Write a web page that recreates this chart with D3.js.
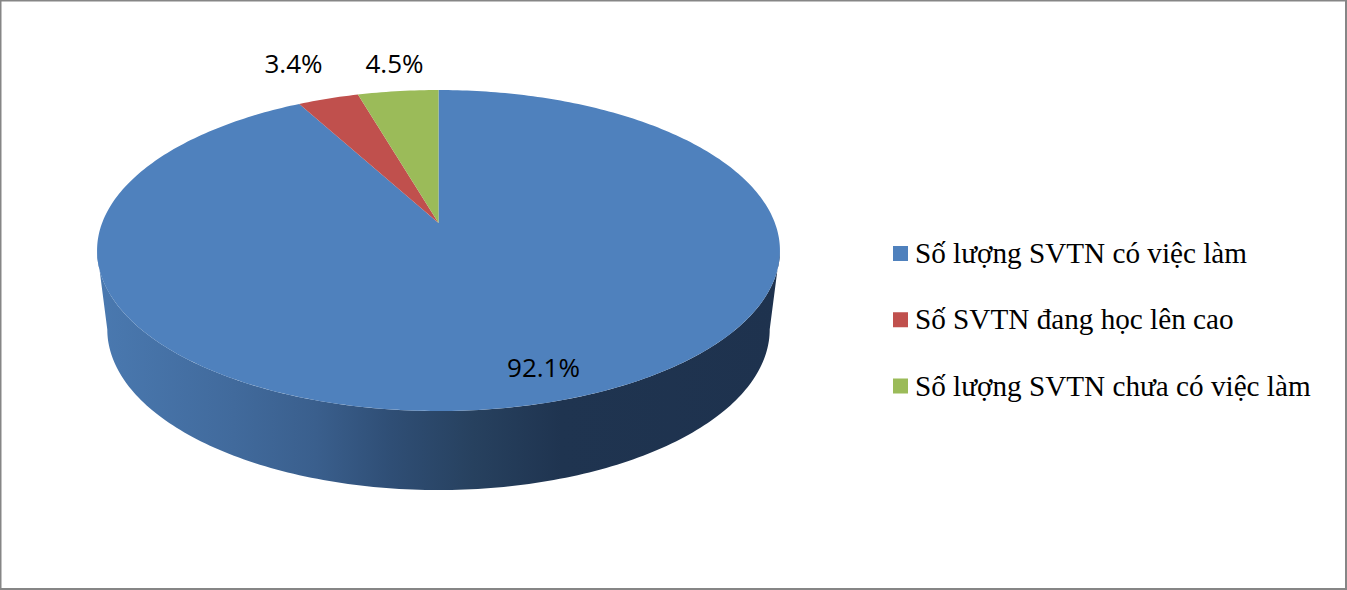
<!DOCTYPE html>
<html>
<head>
<meta charset="utf-8">
<script src="https://cdn.jsdelivr.net/npm/d3@7"></script>
<style>
html, body { margin: 0; padding: 0; background: #fff; overflow: hidden; }
</style>
</head>
<body>
<div id="chart"></div>
<script>
var categories = ['Số lượng SVTN có việc làm', 'Số SVTN đang học lên cao', 'Số lượng SVTN chưa có việc làm'];
var values = [92.1, 3.4, 4.5];
var labels = ['92.1%', '3.4%', '4.5%'];
var fills = ['#4F81BD', '#C0504D', '#9BBB59'];

var width = 1347;
var height = 590;

var svg = d3.select('#chart').append('svg')
  .attr('width', width)
  .attr('height', height)
  .style('display', 'block');

svg.append('rect')
  .attr('x', 0.5).attr('y', 0.5)
  .attr('width', 1345.5).attr('height', 588.5)
  .attr('fill', '#fff')
  .attr('stroke', '#868686')
  .attr('stroke-width', 2);

// the pie is tilted with perspective, so the apex is above the middle of the ellipse
var cx = 438.5;
var apexY = 223;
var persp = -0.1713, vA = 117.6, uD = 336.4;

var project = function(angle) {
  var u = Math.sin(angle), v = -Math.cos(angle);
  var w = 1 + persp * v;
  return [cx + uD * u / w, (vA * v + apexY) / w];
};

// bottom rim is the top rim moved down and a bit narrower
var rimScale = 0.97, rimDrop = 79;
var projectRim = function(angle) {
  var p = project(angle);
  return [cx + (p[0] - cx) * rimScale, p[1] + rimDrop];
};

var line = d3.line();
var sweep = function(a0, a1, fn) {
  var n = Math.max(2, Math.ceil(Math.abs(a1 - a0) * 60));
  return d3.range(n + 1).map(function(i) {
    return fn(a0 + (a1 - a0) * i / n);
  });
};

var defs = svg.append('defs');
var sideGrad = defs.append('linearGradient')
  .attr('id', 'sideGrad')
  .attr('gradientUnits', 'userSpaceOnUse')
  .attr('x1', 97).attr('x2', 780).attr('y1', 0).attr('y2', 0);
[[0, '#4A79B0'], [0.2, '#416A9C'], [0.32, '#3A5F8D'], [0.43, '#2F4E75'], [0.55, '#27415F'], [0.68, '#1F3450'], [1, '#1E324E']]
  .forEach(function(s) {
    sideGrad.append('stop').attr('offset', s[0]).attr('stop-color', s[1]);
  });

var pie = d3.pie().sort(null).value(function(d) { return d; });
var slices = pie(values);

// widest points of the top rim, right and left
var sideFrom = Math.PI / 2 + 0.172;
var sideTo = 3 * Math.PI / 2 - 0.172;
var side = sweep(sideFrom, sideTo, project).concat(sweep(sideTo, sideFrom, projectRim));
svg.append('path')
  .attr('d', line(side) + 'Z')
  .attr('fill', 'url(#sideGrad)');

svg.selectAll('.slice')
  .data(slices)
  .enter()
  .append('path')
  .attr('class', 'slice')
  .attr('d', function(d) {
    var pts = sweep(d.startAngle, d.endAngle, project);
    pts.push([cx, apexY]);
    return line(pts) + 'Z';
  })
  .attr('fill', function(d, i) { return fills[i]; });

// data labels
var labelPos = [[543.5, 368], [293.5, 63.5], [394.5, 63.5]];
svg.selectAll('.lbl')
  .data(labels)
  .enter()
  .append('text')
  .attr('class', 'lbl')
  .attr('x', function(d, i) { return labelPos[i][0]; })
  .attr('y', function(d, i) { return labelPos[i][1]; })
  .attr('dy', '0.36em')
  .attr('text-anchor', 'middle')
  .attr('font-family', '"Open Sans", sans-serif')
  .attr('font-size', 26)
  .attr('fill', '#000')
  .text(function(d) { return d; });

// legend
var legendY = d3.scalePoint().domain(categories).range([253, 385.5]);
var legend = svg.selectAll('.legend')
  .data(categories)
  .enter()
  .append('g')
  .attr('class', 'legend')
  .attr('transform', function(d) { return 'translate(893,' + legendY(d) + ')'; });

legend.append('rect')
  .attr('x', 0).attr('y', -7)
  .attr('width', 15).attr('height', 15)
  .attr('fill', function(d, i) { return fills[i]; });

legend.append('text')
  .attr('x', 22)
  .attr('y', 10)
  .attr('font-family', '"Liberation Serif", serif')
  .attr('font-size', 29.2)
  .attr('fill', '#000')
  .text(function(d) { return d; });
</script>
</body>
</html>
